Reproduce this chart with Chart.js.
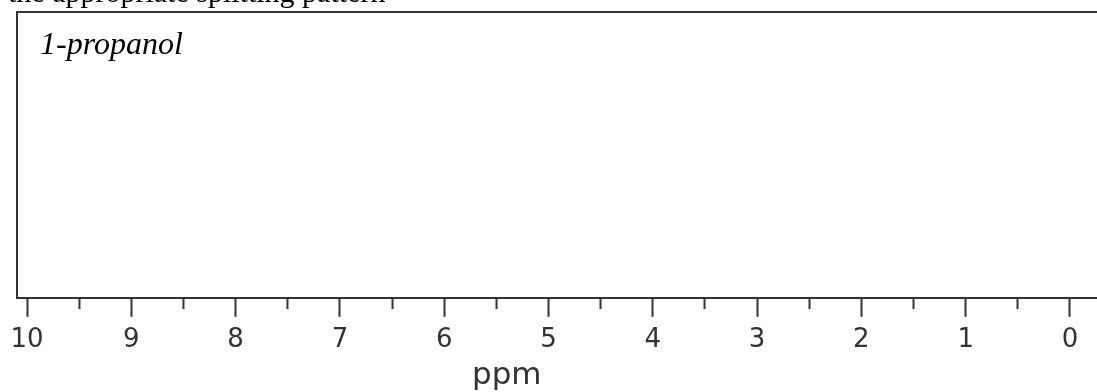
<!DOCTYPE html>
<html>
<head>
<meta charset="utf-8">
<script src="https://cdn.jsdelivr.net/npm/chart.js@4/dist/chart.umd.min.js"></script>
<style>
  html, body { margin: 0; padding: 0; background: #fff; overflow: hidden; }
  #wrap { position: relative; width: 1097px; height: 392px; }
  #chart { position: absolute; left: 0; top: 0; }
  .note { position: absolute; white-space: nowrap; color: #000; }
  #sentence { left: 8px; top: -23px; font: 30px/30px "Liberation Serif", serif; }
  #compound { left: 40px; top: 27px; font: italic 32px/32px "Liberation Serif", serif; }
  #unit { left: 472px; top: 358px; font: 31px/31px "DejaVu Sans", sans-serif; color: #333; }
</style>
</head>
<body>
<div id="wrap">
  <canvas id="chart" width="1097" height="392"></canvas>
  <div class="note" id="sentence">the appropriate splitting pattern</div>
  <div class="note" id="compound">1-propanol</div>
  <div class="note" id="unit">ppm</div>
</div>
<script>
// ppm axis, drawn high -> low like an NMR spectrum
const majorTicks = [10, 9, 8, 7, 6, 5, 4, 3, 2, 1, 0];
const minorTicks = [9.5, 8.5, 7.5, 6.5, 5.5, 4.5, 3.5, 2.5, 1.5, 0.5];
const ppmMax = 10.096;
const ppmMin = -0.259;

// the spectrum itself is blank in the picture (peaks are to be filled in)
const spectrum = [];

const axisColor = '#333';

const allTicks = majorTicks.concat(minorTicks).sort((a, b) => a - b);

new Chart(document.getElementById('chart'), {
    type: 'line',
    data: {
        datasets: [{
            label: '1-propanol',
            data: spectrum,
            borderColor: '#000',
            borderWidth: 1,
            pointRadius: 0
        }]
    },
    options: {
        responsive: false,
        animation: false,
        layout: { padding: { left: 17, top: 12, right: 0, bottom: 28 } },
        plugins: { legend: { display: false }, tooltip: { enabled: false } },
        scales: {
            x: {
                type: 'linear',
                position: 'bottom',
                reverse: true,
                min: ppmMin,
                max: ppmMax,
                afterBuildTicks: scale => {
                    scale.ticks = allTicks.map(v => ({ value: v }));
                },
                ticks: {
                    autoSkip: false,
                    maxRotation: 0,
                    padding: 8,
                    color: axisColor,
                    font: { family: 'DejaVu Sans', size: 26 },
                    callback: value => majorTicks.includes(value) ? String(value) : ''
                },
                grid: {
                    drawOnChartArea: false,
                    drawTicks: true,
                    tickLength: 19,
                    tickWidth: 2,
                    tickColor: axisColor,
                    // minor ticks: only the first 10px of the tick is drawn
                    tickBorderDash: ctx => (ctx.tick && minorTicks.includes(ctx.tick.value)) ? [10, 40] : []
                },
                border: { display: true, color: axisColor, width: 2 }
            },
            xTop: {
                type: 'linear',
                position: 'top',
                reverse: true,
                min: ppmMin,
                max: ppmMax,
                ticks: { display: false },
                grid: { display: false, drawTicks: false },
                border: { display: true, color: axisColor, width: 2 }
            },
            y: {
                type: 'linear',
                min: 0,
                max: 1,
                ticks: { display: false },
                grid: { display: false, drawTicks: false },
                border: { display: true, color: axisColor, width: 2 }
            }
        }
    }
});
</script>
</body>
</html>
